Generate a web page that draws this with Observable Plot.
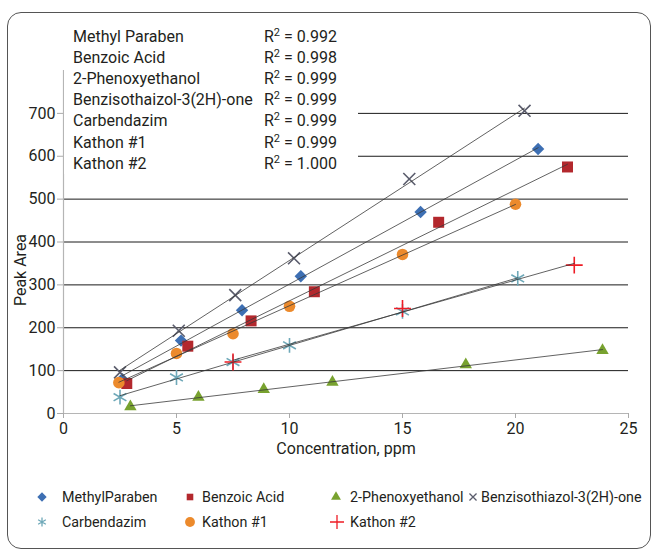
<!DOCTYPE html>
<html>
<head>
<meta charset="utf-8">
<script src="https://cdn.jsdelivr.net/npm/d3@7"></script>
<script src="https://cdn.jsdelivr.net/npm/@observablehq/plot@0.6"></script>
<style>
  html, body { margin: 0; padding: 0; background: #fff; }
  #wrap { position: relative; width: 652px; height: 552px; overflow: hidden; font-family: Roboto, "Liberation Sans", sans-serif; color: #231f20; }
  #frame { position: absolute; left: 7px; top: 12px; width: 644px; height: 537px; border: 1.5px solid #555; border-radius: 14px; box-sizing: border-box; }
  #chart { position: absolute; left: 0; top: 0; }
  #rbox { position: absolute; left: 64px; top: 22px; width: 294px; height: 152px; background: #fff; }
  .rrow { position: absolute; left: 0; height: 20px; font-size: 16px; line-height: 20px; white-space: nowrap; }
  .rname { position: absolute; left: 9px; }
  .rval { position: absolute; left: 200px; }
  .rval sup { font-size: 11px; line-height: 0; vertical-align: 6px; }
  #legend { position: absolute; left: 0; top: 487px; width: 652px; font-size: 14.3px; }
  .li { position: absolute; height: 20px; line-height: 20px; white-space: nowrap; }
  .li svg { position: absolute; left: 0; top: 3px; }
  .li span { position: absolute; }
</style>
</head>
<body>
<div id="wrap">
  <div id="frame"></div>
  <div id="chart"></div>
  <div id="rbox"></div>
  <div id="legend"></div>
</div>
<script>
// ---- data ----
const seriesNames = ["MethylParaben", "Benzoic Acid", "2-Phenoxyethanol", "Benzisothiazol-3(2H)-one", "Carbendazim", "Kathon #1", "Kathon #2"];
const boxNames = ["Methyl Paraben", "Benzoic Acid", "2-Phenoxyethanol", "Benzisothaizol-3(2H)-one", "Carbendazim", "Kathon #1", "Kathon #2"];
const r2Values = ["0.992", "0.998", "0.999", "0.999", "0.999", "0.999", "1.000"];

const mpX = [2.6, 5.2, 7.9, 10.5, 15.8, 21.0];
const mpY = [80, 170, 241, 320, 470, 617];
const baX = [2.8, 5.5, 8.3, 11.1, 16.6, 22.3];
const baY = [70, 157, 216, 284, 446, 575];
const peX = [2.96, 5.97, 8.86, 11.9, 17.8, 23.85];
const peY = [16, 38, 56, 73, 114, 147];
const bzX = [2.5, 5.1, 7.6, 10.2, 15.3, 20.4];
const bzY = [96, 193, 276, 362, 547, 706];
const cbX = [2.5, 5.0, 7.5, 10.0, 15.0, 20.1];
const cbY = [38, 84, 120, 159, 238, 315];
const k1X = [2.45, 5.0, 7.5, 10.0, 15.0, 20.0];
const k1Y = [72, 140, 186, 250, 371, 488];
const k2X = [7.5, 15.0, 22.6];
const k2Y = [120, 245, 346];

const xTicks = [0, 5, 10, 15, 20, 25];
const yTicks = [0, 100, 200, 300, 400, 500, 600, 700];
const gridValues = [100, 200, 300, 400, 500, 600, 700];

// ---- styles per series ----
const styles = [
  {symbol: "diamond2", color: "#3d6fb3", filled: true, r: 5.6},
  {symbol: "square", color: "#b3282d", filled: true, r: 6.2},
  {symbol: "triangle", color: "#78a22f", filled: true, r: 4.6},
  {symbol: "times", color: "#5a5c6c", filled: false, r: 5.5},
  {symbol: "asterisk", color: "#6ea8b8", filled: false, r: 7},
  {symbol: "circle", color: "#ec8a2c", filled: true, r: 5.8},
  {symbol: "plus", color: "#ee1c25", filled: false, r: 5.5}
];
const xs = [mpX, baX, peX, bzX, cbX, k1X, k2X];
const ys = [mpY, baY, peY, bzY, cbY, k1Y, k2Y];
const tables = xs.map((xa, i) => xa.map((x, j) => ({x, y: ys[i][j], s: seriesNames[i]})));

const marks = [
  Plot.ruleY(gridValues, {x1: 0, x2: 25, stroke: "#1a1a1a", strokeWidth: 1}),
  Plot.ruleY([0], {x1: 0, x2: 25, stroke: "#b5b5b5", strokeWidth: 1.2}),
  Plot.ruleX([0], {y1: 0, y2: 800, stroke: "#b5b5b5", strokeWidth: 1.2}),
  Plot.axisX({ticks: xTicks, tickSize: 5, stroke: "#aaa", fill: "#231f20", fontSize: 16, tickPadding: 4, label: null}),
  Plot.axisY({ticks: yTicks, tickSize: 6, stroke: "#aaa", fill: "#231f20", fontSize: 16, tickPadding: 2, label: null}),
  Plot.text(["Concentration, ppm"], {frameAnchor: "bottom", dy: 40, fontSize: 16, fill: "#231f20"}),
];
tables.forEach((t, i) => {
  const st = styles[i];
  const opts = {x: "x", y: "y", symbol: st.symbol, r: st.r};
  if (st.filled) { opts.fill = st.color; opts.stroke = "none"; }
  else { opts.stroke = st.color; opts.fill = "none"; opts.strokeWidth = 1.6; }
  marks.push(Plot.dot(t, opts));
});
tables.forEach((t) => {
  marks.push(Plot.linearRegressionY(t, {x: "x", y: "y", stroke: "#3a3a3a", strokeWidth: 0.8, ci: 0}));
});

const chart = Plot.plot({
  width: 652,
  height: 460,
  marginLeft: 63,
  marginRight: 24,
  marginTop: 70,
  marginBottom: 47,
  style: {background: "transparent", fontFamily: "Roboto, 'Liberation Sans', sans-serif"},
  x: {domain: [0, 25]},
  y: {domain: [0, 800]},
  marks
});
document.getElementById("chart").appendChild(chart);

// y label
const svg = d3.select(chart);
svg.append("text")
  .attr("transform", "translate(26,270) rotate(-90)")
  .attr("text-anchor", "middle")
  .attr("font-size", 16)
  .attr("fill", "#231f20")
  .text("Peak Area");

// ---- R² box ----
const rbox = document.getElementById("rbox");
boxNames.forEach((n, i) => {
  const row = document.createElement("div");
  row.className = "rrow";
  row.style.top = (5 + i * 21.1) + "px";
  row.style.width = "294px";
  row.innerHTML = `<span class="rname"></span><span class="rval">R<sup>2</sup> = ${r2Values[i]}</span>`;
  row.querySelector(".rname").textContent = n;
  rbox.appendChild(row);
});

// ---- legend ----
const legendPos = [
  {x: 42, y: 0, gap: 20}, {x: 190, y: 0, gap: 12}, {x: 336, y: 0, gap: 14}, {x: 473, y: 0, gap: 8},
  {x: 42, y: 25, gap: 20}, {x: 190, y: 25, gap: 12}, {x: 337, y: 25, gap: 13}
];
const legendSize = [0.75, 0.6, 0.8, 0.6, 0.6, 0.85, 1.0];
const symMap = {diamond2: d3.symbolDiamond2, square: d3.symbolSquare, triangle: d3.symbolTriangle, times: d3.symbolTimes, asterisk: d3.symbolAsterisk, circle: d3.symbolCircle, plus: d3.symbolPlus};
const legend = document.getElementById("legend");
seriesNames.forEach((n, i) => {
  const st = styles[i];
  const p = legendPos[i];
  const item = document.createElement("div");
  item.className = "li";
  item.style.left = (p.x - 7) + "px";
  item.style.top = p.y + "px";
  const rr = st.r * legendSize[i];
  const path = d3.symbol(symMap[st.symbol], Math.PI * rr * rr)();
  const paint = st.filled ? `fill="${st.color}"` : `fill="none" stroke="${st.color}" stroke-width="1.3"`;
  item.innerHTML = `<svg width="14" height="14"><path transform="translate(7,7)" d="${path}" ${paint}></path></svg><span></span>`;
  const sp = item.querySelector("span");
  sp.style.left = (7 + p.gap) + "px";
  sp.textContent = n;
  legend.appendChild(item);
});
</script>
</body>
</html>
